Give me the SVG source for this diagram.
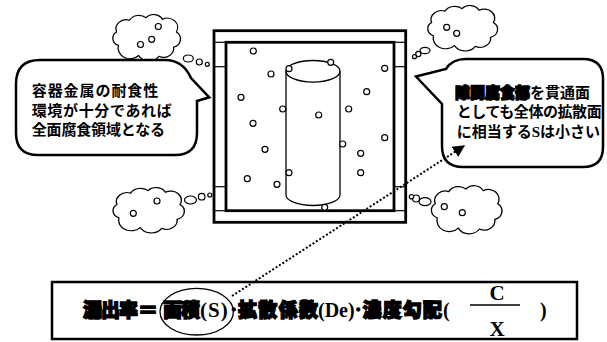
<svg xmlns="http://www.w3.org/2000/svg" xmlns:xlink="http://www.w3.org/1999/xlink" width="607" height="342" viewBox="0 0 607 342">
  <style>
    .ln { fill: none; stroke: #000; }
    .bub { fill: #fff; stroke: #000; stroke-width: 1.2; }
    .cloud { fill: #fff; stroke: #000; stroke-width: 1.4; vector-effect: non-scaling-stroke; stroke-linejoin: round; }
    .jp { font-family: "Noto Sans CJK JP", "Noto Sans", sans-serif; font-size: 15px; font-weight: bold; fill: #000; }
    .jpb { font-family: "Noto Sans CJK JP", "Noto Sans", sans-serif; font-weight: 900; fill: #000; stroke: #000; stroke-width: 1.4; }
    .ser { font-family: "Liberation Serif", "Times New Roman", serif; font-weight: bold; fill: #000; }
  </style>
  <defs>
    <!-- scalloped thought-cloud outline, centred on the origin -->
    <path id="cloudShape" d="M -30,10 A 9 9 0 0 1 -32,-6 A 11 11 0 0 1 -18,-20 A 12 12 0 0 1 0,-23 A 11 11 0 0 1 18,-21 A 11 11 0 0 1 33,-6 A 10 10 0 0 1 30,12 A 11 11 0 0 1 14,23 A 13 13 0 0 1 -8,22 A 13 13 0 0 1 -30,10 Z"/>
    <marker id="arrow" viewBox="0 0 10 10" refX="9" refY="5" markerWidth="6" markerHeight="6" orient="auto" markerUnits="strokeWidth">
      <path d="M 0,0 L 10,5 L 0,10 Z" fill="#000"/>
    </marker>
  </defs>

  <!-- container: outer wall, inner wall, and the short ties between them -->
  <g id="container">
    <rect x="214" y="30.7" width="191.7" height="191.6" class="ln" stroke-width="2.8"/>
    <rect x="226" y="42.3" width="168" height="168.4" class="ln" stroke-width="2.8"/>
    <g class="ln" stroke-width="1.2">
      <line x1="214" y1="42.3" x2="226" y2="42.3"/>
      <line x1="214" y1="66.7" x2="226" y2="66.7"/>
      <line x1="214" y1="186.7" x2="226" y2="186.7"/>
      <line x1="214" y1="210.7" x2="226" y2="210.7"/>
      <line x1="394" y1="42.3" x2="405.7" y2="42.3"/>
      <line x1="394" y1="66.7" x2="405.7" y2="66.7"/>
      <line x1="394" y1="186.7" x2="405.7" y2="186.7"/>
      <line x1="394" y1="210.7" x2="405.7" y2="210.7"/>
    </g>
  </g>

  <!-- cylinder inside the container -->
  <g id="cylinder" class="ln" stroke-width="1.3">
    <ellipse cx="313" cy="71.3" rx="27" ry="10.8" fill="#fff"/>
    <line x1="286" y1="71.3" x2="286" y2="195"/>
    <line x1="340" y1="71.3" x2="340" y2="195"/>
    <path d="M 286,195 A 27 10.5 0 0 0 340,195"/>
  </g>

  <!-- small bubbles scattered in the fill -->
  <g id="bubbles" class="bub">
    <circle cx="253.3" cy="51" r="3"/>
    <circle cx="330.7" cy="62.3" r="3"/>
    <circle cx="289" cy="68.7" r="3"/>
    <circle cx="271" cy="74" r="3"/>
    <circle cx="384.7" cy="68.3" r="3"/>
    <circle cx="366.7" cy="91.7" r="3"/>
    <circle cx="241" cy="97.3" r="3"/>
    <circle cx="282.7" cy="109" r="3"/>
    <circle cx="348.7" cy="109" r="3"/>
    <circle cx="318.7" cy="115" r="3"/>
    <circle cx="253" cy="123.3" r="3"/>
    <circle cx="384.7" cy="137.7" r="3"/>
    <circle cx="342.7" cy="144" r="3"/>
    <circle cx="265" cy="149.3" r="3"/>
    <circle cx="360.7" cy="153.3" r="3"/>
    <circle cx="247.3" cy="178.7" r="3"/>
    <circle cx="289" cy="172.7" r="3"/>
    <circle cx="360.7" cy="172.7" r="3"/>
    <circle cx="277" cy="184.3" r="3"/>
    <circle cx="324.7" cy="207.3" r="3"/>
  </g>

  <!-- thought clouds at the four corners -->
  <g id="cloud-top-left">
    <use xlink:href="#cloudShape" class="cloud" transform="translate(146,37) scale(0.92,0.84)"/>
    <circle cx="158.3" cy="26.5" r="3" class="bub"/>
    <circle cx="151.7" cy="39.3" r="3" class="bub"/>
    <circle cx="140.5" cy="44.5" r="3" class="bub"/>
    <ellipse cx="188.3" cy="58.5" rx="5" ry="3.5" class="bub"/>
    <circle cx="199.3" cy="62" r="3" class="bub"/>
    <circle cx="207.3" cy="64.3" r="2" class="bub"/>
  </g>
  <g id="cloud-top-right">
    <use xlink:href="#cloudShape" class="cloud" transform="translate(462,27.5) scale(0.95,0.82)"/>
    <circle cx="446.7" cy="27.3" r="3" class="bub"/>
    <circle cx="456.7" cy="33.3" r="3" class="bub"/>
    <ellipse cx="425" cy="50.5" rx="5" ry="3.2" class="bub"/>
    <circle cx="418.3" cy="54" r="2.6" class="bub"/>
    <circle cx="414.5" cy="56.7" r="2" class="bub"/>
  </g>
  <g id="cloud-bottom-left">
    <use xlink:href="#cloudShape" class="cloud" transform="translate(148,209.5) scale(0.97,0.82)"/>
    <circle cx="157" cy="201" r="3" class="bub"/>
    <circle cx="133.3" cy="213.3" r="3" class="bub"/>
    <ellipse cx="190.5" cy="200" rx="6" ry="4" class="bub"/>
    <circle cx="201.7" cy="196.7" r="3.3" class="bub"/>
    <circle cx="209.8" cy="195" r="2" class="bub"/>
  </g>
  <g id="cloud-bottom-right">
    <use xlink:href="#cloudShape" class="cloud" transform="translate(466,209) scale(0.96,0.87)"/>
    <circle cx="444.3" cy="206.7" r="3" class="bub"/>
    <circle cx="462.3" cy="212.7" r="3" class="bub"/>
    <ellipse cx="425" cy="201.7" rx="6" ry="4" class="bub"/>
    <circle cx="416" cy="198.5" r="3.5" class="bub"/>
    <circle cx="411.5" cy="196.7" r="2.2" class="bub"/>
  </g>

  <!-- speech callout, left -->
  <g id="callout-left">
    <path d="M 40,60 H 165 Q 183,60 191,78 L 209.3,97.3 L 197,101 V 133 Q 197,155 175,155 H 38 Q 16,155 16,133 V 84 Q 16,60 40,60 Z" fill="#fff" stroke="#000" stroke-width="2.5" stroke-linejoin="miter"/>
    <text class="jp" x="31.7" y="95.5" textLength="126.6" lengthAdjust="spacing">容器金属の耐食性</text>
    <text class="jp" x="31.7" y="116" textLength="140" lengthAdjust="spacing">環境が十分であれば</text>
    <text class="jp" x="31.7" y="135" textLength="133.3" lengthAdjust="spacing">全面腐食領域となる</text>
  </g>

  <!-- speech callout, right -->
  <g id="callout-right">
    <path d="M 466,59 H 583 Q 603,59 603,79 V 147 Q 603,167 583,167 H 463 Q 442,167 442,146 V 104 L 416,76.5 L 446,69 Q 452,59 466,59 Z" fill="#fff" stroke="#000" stroke-width="2.5" stroke-linejoin="miter"/>
    <text x="455" y="98" font-size="15"><tspan class="jpb" stroke-width="1.1">隙間腐食部</tspan><tspan class="jp">を貫通面</tspan></text>
    <text class="jp" x="456.7" y="117" textLength="145" lengthAdjust="spacing">としても全体の拡散面</text>
    <text x="456.7" y="136.5" font-size="15"><tspan class="jp">に相当する</tspan><tspan class="ser">S</tspan><tspan class="jp">は小さい</tspan></text>
  </g>

  <!-- leak-rate formula -->
  <g id="formula">
    <rect x="52" y="282" width="525" height="57" fill="#fff" stroke="#000" stroke-width="2.5"/>
    <ellipse cx="196.7" cy="311.7" rx="36.7" ry="23.3" class="ln" stroke-width="1.3"/>
    <text class="jpb" font-size="19" x="83" y="317" textLength="55" lengthAdjust="spacing">漏出率</text>
    <text class="jpb" font-size="19" x="140" y="317" textLength="16" lengthAdjust="spacingAndGlyphs">=</text>
    <text class="jpb" font-size="19" x="163" y="317" textLength="37" lengthAdjust="spacing">面積</text>
    <text class="ser" font-size="21" x="200" y="317" letter-spacing="1">(S)</text>
    <text class="jpb" font-size="13" x="230.5" y="314" stroke-width="1">･</text>
    <text class="jpb" font-size="19" x="238" y="317" textLength="80" lengthAdjust="spacing">拡散係数</text>
    <text class="ser" font-size="20" x="318" y="317">(De)</text>
    <text class="jpb" font-size="13" x="355" y="314" stroke-width="1">･</text>
    <text class="jpb" font-size="19" x="362.5" y="317" textLength="79.5" lengthAdjust="spacing">濃度勾配</text>
    <text class="ser" font-size="20" x="443" y="317">(</text>
    <line x1="470" y1="305" x2="520" y2="305" stroke="#000" stroke-width="1.5"/>
    <text class="ser" font-size="21" x="497" y="300" text-anchor="middle">C</text>
    <text class="ser" font-size="21" x="497" y="336" text-anchor="middle">X</text>
    <text class="ser" font-size="20" x="540" y="317">)</text>
  </g>

  <!-- dotted pointer from the area term to the right callout -->
  <g id="connectors">
    <line x1="232" y1="296" x2="464" y2="146" stroke="#000" stroke-width="2" stroke-dasharray="2 2" marker-end="url(#arrow)"/>
  </g>
</svg>
